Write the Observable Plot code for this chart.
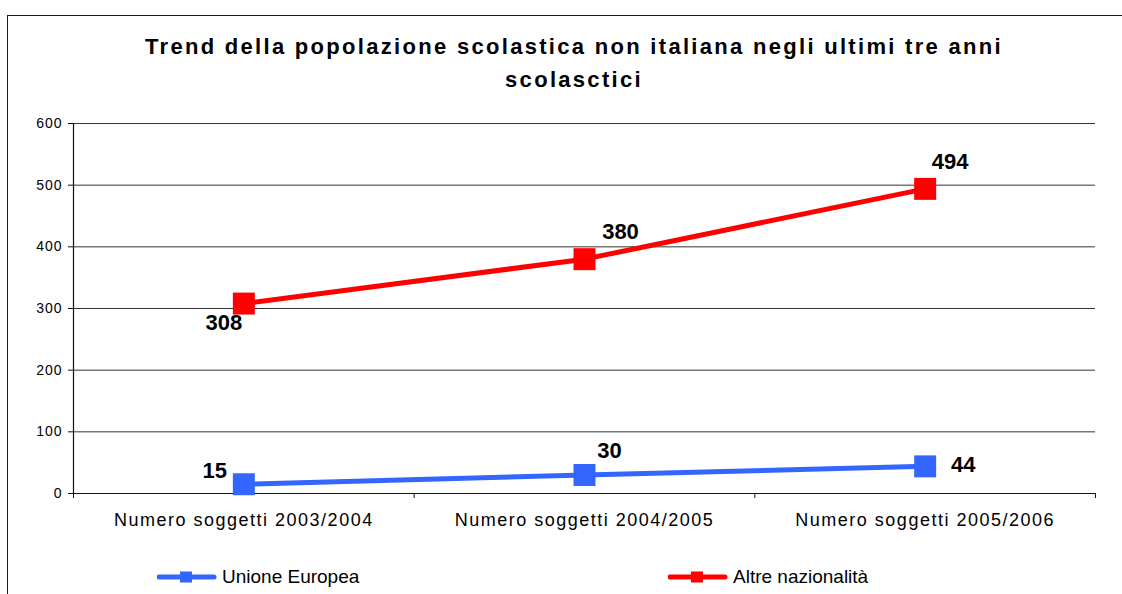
<!DOCTYPE html>
<html>
<head>
<meta charset="utf-8">
<script src="https://cdn.jsdelivr.net/npm/d3@7"></script>
<script src="https://cdn.jsdelivr.net/npm/@observablehq/plot@0.6"></script>
<style>
  html, body { margin: 0; padding: 0; background: #fff; }
  #page { position: relative; width: 1122px; height: 594px; overflow: hidden; font-family: "Liberation Sans", Arial, sans-serif; }
  #frameLeft { position: absolute; left: 7px; top: 15px; width: 1.4px; height: 600px; background: #1a1a1a; }
  #frameTop { position: absolute; left: 7px; top: 15px; width: 1200px; height: 1.4px; background: #1a1a1a; }
  #title { position: absolute; left: 2px; top: 31px; width: 1144px; text-align: center; font-size: 22px; font-weight: bold; line-height: 32.5px; letter-spacing: 2.3px; color: #000; }
  #chart { position: absolute; left: 0; top: 95px; }
  .legend-item { position: absolute; top: 566px; height: 22px; display: flex; align-items: center; font-size: 19px; color: #000; }
  .legend-item svg { margin-right: 5px; }
</style>
</head>
<body>
<div id="page">
  <div id="frameLeft"></div>
  <div id="frameTop"></div>
  <div id="title"></div>
  <div id="chart"></div>
</div>
<script>
const titleLines = ["Trend della popolazione scolastica non italiana negli ultimi tre anni", "scolasctici"];
const categories = ["Numero soggetti 2003/2004", "Numero soggetti 2004/2005", "Numero soggetti 2005/2006"];
const seriesNames = ["Unione Europea", "Altre nazionalità"];
const unioneEuropea = [15, 30, 44];
const altreNazionalita = [308, 380, 494];
const yTicks = [0, 100, 200, 300, 400, 500, 600];
const seriesColors = ["#3366FF", "#FF0000"];
// data-label offsets (pixels) relative to each point
const labelOffsetsUE = [[-29, -13], [25, -24], [38, -1]];
const labelOffsetsAltre = [[-20, 19], [36, -27], [25, -27]];

document.getElementById("title").innerHTML = titleLines.join("<br>");

const seriesValues = [unioneEuropea, altreNazionalita];
const seriesOffsets = [labelOffsetsUE, labelOffsetsAltre];
const rows = [];
seriesNames.forEach((s, si) => {
  categories.forEach((c, i) => rows.push({series: s, idx: i, cat: c, value: seriesValues[si][i], off: seriesOffsets[si][i]}));
});

const boundaries = d3.range(-0.5, categories.length, 1);

const marks = [
  Plot.gridY({ticks: yTicks, stroke: "#333", strokeOpacity: 1, strokeWidth: 1}),
  Plot.ruleX([-0.5], {stroke: "#111", strokeWidth: 1.2}),
  Plot.ruleY([0], {stroke: "#111", strokeWidth: 1.2}),
  Plot.axisY({ticks: yTicks, tickSize: 5, tickPadding: 6, fontSize: 14, stroke: "#111", label: null}),
  Plot.axisX({ticks: boundaries, tickSize: 5, tickFormat: () => "", stroke: "#111", label: null}),
  Plot.axisX({ticks: d3.range(categories.length), tickSize: 0, tickPadding: 20, fontSize: 18, tickFormat: i => categories[i], label: null})
];
seriesNames.forEach((s, si) => {
  const d = rows.filter(r => r.series === s);
  marks.push(Plot.line(d, {x: "idx", y: "value", stroke: seriesColors[si], strokeWidth: 5}));
  marks.push(Plot.dot(d, {x: "idx", y: "value", symbol: "square", r: 12.4, fill: seriesColors[si], stroke: "none"}));
  d.forEach(r => {
    marks.push(Plot.text([r], {x: "idx", y: "value", text: "value", dx: r.off[0], dy: r.off[1], fontSize: 22, fontWeight: "bold", fill: "#000"}));
  });
});

const plot = Plot.plot({
  width: 1122,
  height: 443,
  marginLeft: 73,
  marginRight: 27,
  marginTop: 28,
  marginBottom: 45,
  style: {fontFamily: "'Liberation Sans', Arial, sans-serif", color: "#000", background: "transparent", overflow: "visible"},
  x: {type: "linear", domain: [-0.5, categories.length - 0.5], axis: null, label: null},
  y: {domain: [0, 600], axis: null, label: null},
  marks
});
document.getElementById("chart").appendChild(plot);

d3.select(plot).selectAll('g[aria-label="y-axis tick label"] text').style("letter-spacing", "1px");
d3.select(plot).selectAll('g[aria-label="x-axis tick label"] text').style("letter-spacing", "1.5px");

// legend
const legendX = [[157, 220], [668, 732]];
const page = d3.select("#page");
seriesNames.forEach((s, si) => {
  const item = page.append("div").attr("class", "legend-item").style("left", legendX[si][0] + "px");
  const sw = item.append("svg").attr("width", 60).attr("height", 14);
  sw.append("line").attr("x1", 2).attr("x2", 57).attr("y1", 7).attr("y2", 7)
    .attr("stroke", seriesColors[si]).attr("stroke-width", 5).attr("stroke-linecap", "round");
  sw.append("rect").attr("x", 23).attr("y", 1.5).attr("width", 12).attr("height", 11).attr("fill", seriesColors[si]);
  item.append("span").text(s);
});
</script>
</body>
</html>
